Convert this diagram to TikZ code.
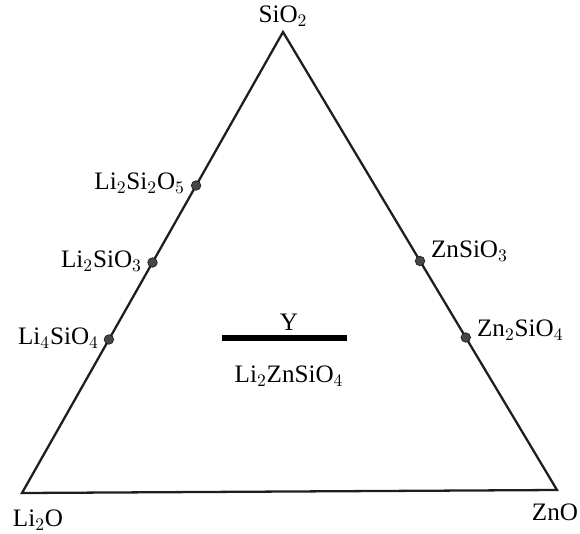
\documentclass[tikz,border=0pt]{standalone}
\usepackage{fontspec}
\setmainfont{Liberation Serif}
\usepackage{tikz}
\usetikzlibrary{positioning, calc}
\definecolor{mydark}{RGB}{30,30,30}
\definecolor{mydot}{RGB}{70,70,70}
\tikzset{
  edgeline/.style={line width=1.3pt, color=mydark, line join=miter},
  phase/.style={circle, fill=mydot, draw=mydark, line width=0.4pt,
    inner sep=0pt, minimum size=0.19cm},
  lbl/.style={font=\fontsize{14.3}{16}\selectfont, inner sep=1pt, text=black},
  tieline/.style={line width=0.11cm, color=black}
}
\begin{document}
\begin{tikzpicture}[x=0.02cm, y=-0.02cm]
  \useasboundingbox (0,0) rectangle (580,533);
  % corners of the triangle
  \coordinate (SiO) at (283,32);
  \coordinate (LiO) at (22,493);
  \coordinate (ZnO) at (557,490);
  \draw[edgeline] (SiO) -- (LiO) -- (ZnO) -- cycle;

  % corner labels
  \node[lbl] (tSiO) at (283,16) {SiO$_2$};
  \node[lbl] (tLiO) at (38,520) {Li$_2$O};
  \node[lbl] (tZnO) at (555,512) {ZnO};

  % compounds on the edges
  \node[phase] (pLSS) at ($(SiO)!0.333!(LiO)$) {};
  \node[phase] (pLS)  at ($(SiO)!0.5!(LiO)$) {};
  \node[phase] (pLLS) at ($(SiO)!0.667!(LiO)$) {};
  \node[phase] (pZS)  at ($(SiO)!0.5!(ZnO)$) {};
  \node[phase] (pZZS) at ($(SiO)!0.667!(ZnO)$) {};

  \node[lbl, anchor=east] (tLSS) at (187,183) {Li$_2$Si$_2$O$_5$};
  \node[lbl, anchor=east] (tLS)  at (144,261) {Li$_2$SiO$_3$};
  \node[lbl, anchor=east] (tLLS) at (101,338) {Li$_4$SiO$_4$};
  \node[lbl, anchor=west] (tZS)  at (429,251) {ZnSiO$_3$};
  \node[lbl, anchor=west] (tZZS) at (475,330) {Zn$_2$SiO$_4$};

  % Y phase
  \coordinate (ya) at (222,338);
  \coordinate (yb) at (347,338);
  \draw[tieline] (ya) -- (yb);
  \node[lbl] (tY) at (289,322) {Y};
  \node[lbl] (tLZS) at (289,376) {Li$_2$ZnSiO$_4$};
\end{tikzpicture}
\end{document}
